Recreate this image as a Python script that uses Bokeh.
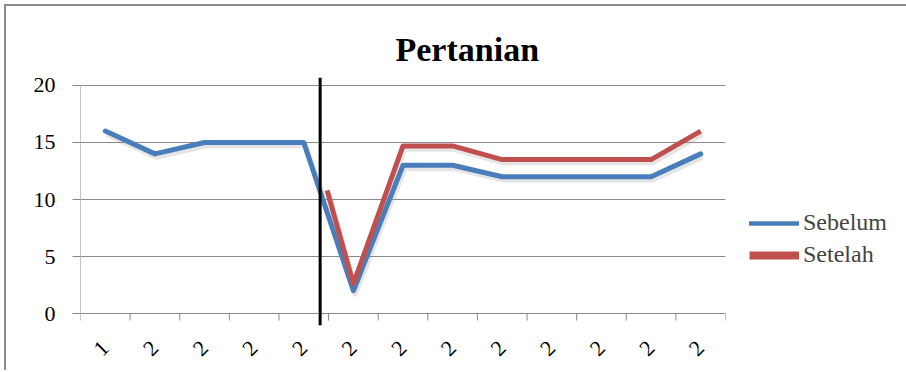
import math
from bokeh.plotting import figure
from bokeh.models import FixedTicker, Legend, LegendItem, Range1d
from bokeh.embed import file_html
from bokeh.resources import INLINE

# ---- data ----
categories = ["1", "2", "2", "2", "2", "2", "2", "2", "2", "2", "2", "2", "2"]
positions = list(range(1, 14))
sebelum = [16, 14, 15, 15, 15, 2, 13, 13, 12, 12, 12, 12, 14]
setelah_x = [5.47, 6, 7, 8, 9, 10, 11, 12, 13]
setelah = [10.8, 2.6, 14.7, 14.7, 13.5, 13.5, 13.5, 13.5, 16]
y_ticks = [0, 5, 10, 15, 20]
divider_x = 5.33
title_text = "Pertanian"
series_names = ["Sebelum", "Setelah"]

BLUE = "#4A7EBB"
RED = "#C0504D"
GRAY = "#8a8a8a"
FONT = "Liberation Serif"

Y_LO, Y_HI = -1.05, 20.7   # frame extends a little beyond the 0..20 value band
X_LO, X_HI = 0.5, 13.5
boundaries = [i + 0.5 for i in range(0, 14)]

p = figure(frame_width=645, frame_height=248,
           min_border_left=80, min_border_top=77,
           min_border_right=179, min_border_bottom=45,
           x_range=Range1d(X_LO, X_HI), y_range=Range1d(Y_LO, Y_HI),
           output_backend="svg", toolbar_location=None, tools="")
p.styles = {"background-color": "white",
            "box-shadow": "inset 4px 4px 0 0 white, inset 6px 6px 0 0 #8c8c8c"}
p.outline_line_color = None
p.background_fill_color = "white"
p.border_fill_color = None

# title
p.title.text = title_text
p.title.align = "left"
p.title.offset = 315
p.title.text_font = FONT
p.title.text_font_size = "34px"
p.title.text_font_style = "bold"
p.title.text_color = "black"
p.title.standoff = 19

# x axis: labels only, ticks drawn at y=0 below
xa = p.xaxis[0]
xa.ticker = FixedTicker(ticks=positions)
xa.major_label_overrides = {pos: c for pos, c in zip(positions, categories)}
xa.major_label_orientation = math.pi / 4
xa.major_tick_line_color = None
xa.minor_tick_line_color = None
xa.major_tick_out = 0
xa.axis_line_color = None
xa.major_label_standoff = 19
xa.major_label_text_font = FONT
xa.major_label_text_font_size = "22px"
xa.major_label_text_color = "black"

# y axis
ya = p.yaxis[0]
ya.ticker = FixedTicker(ticks=y_ticks)
ya.minor_tick_line_color = None
ya.major_tick_out = 8
ya.major_tick_in = 0
ya.major_tick_line_color = GRAY
ya.axis_line_color = None
ya.major_label_standoff = 17
ya.major_label_text_font = FONT
ya.major_label_text_font_size = "22px"
ya.major_label_text_color = "black"

p.xgrid.grid_line_color = None
p.ygrid.ticker = FixedTicker(ticks=y_ticks)
p.ygrid.grid_line_color = GRAY

# value-axis line and category tick marks (within the 0..20 band)
p.segment(x0=[X_LO], y0=[y_ticks[0]], x1=[X_LO], y1=[y_ticks[-1]],
          line_color=GRAY, line_width=1)
tick_len = 7 * (Y_HI - Y_LO) / 248
p.segment(x0=boundaries, y0=[y_ticks[0]] * len(boundaries),
          x1=boundaries, y1=[y_ticks[0] - tick_len] * len(boundaries),
          line_color=GRAY, line_width=1)

# shadows
p.line([x + 0.03 for x in positions], [v - 0.25 for v in sebelum],
       line_color="#999999", line_alpha=0.25, line_width=6, line_join="round")
p.line([x + 0.03 for x in setelah_x], [v - 0.25 for v in setelah],
       line_color="#999999", line_alpha=0.25, line_width=6, line_join="round")

# series
p.line(positions, sebelum, line_color=BLUE, line_width=5,
       line_join="round", line_cap="round")
p.line(setelah_x, setelah, line_color=RED, line_width=5,
       line_join="round", line_cap="butt")

# divider line (full frame height)
p.segment(x0=[divider_x], y0=[Y_LO], x1=[divider_x], y1=[Y_HI],
          line_color="black", line_width=3)

# legend swatches (renderers that draw nothing in the plot)
nan = float("nan")
lb = p.line(x=[positions[0], positions[1]], y=[nan, nan], line_color=BLUE,
            line_width=4.5, line_cap="round")
lr = p.line(x=[positions[0], positions[1]], y=[nan, nan], line_color=RED,
            line_width=8)

legend = Legend(items=[LegendItem(label=series_names[0], renderers=[lb]),
                       LegendItem(label=series_names[1], renderers=[lr])],
                location=(24, 57), glyph_width=50, glyph_height=24,
                label_height=24, spacing=5, padding=10, margin=0,
                label_standoff=4, border_line_color=None,
                background_fill_alpha=0,
                label_text_font=FONT, label_text_font_size="24px")
p.add_layout(legend, "right")

open("out.html", "w").write(file_html(p, INLINE))
